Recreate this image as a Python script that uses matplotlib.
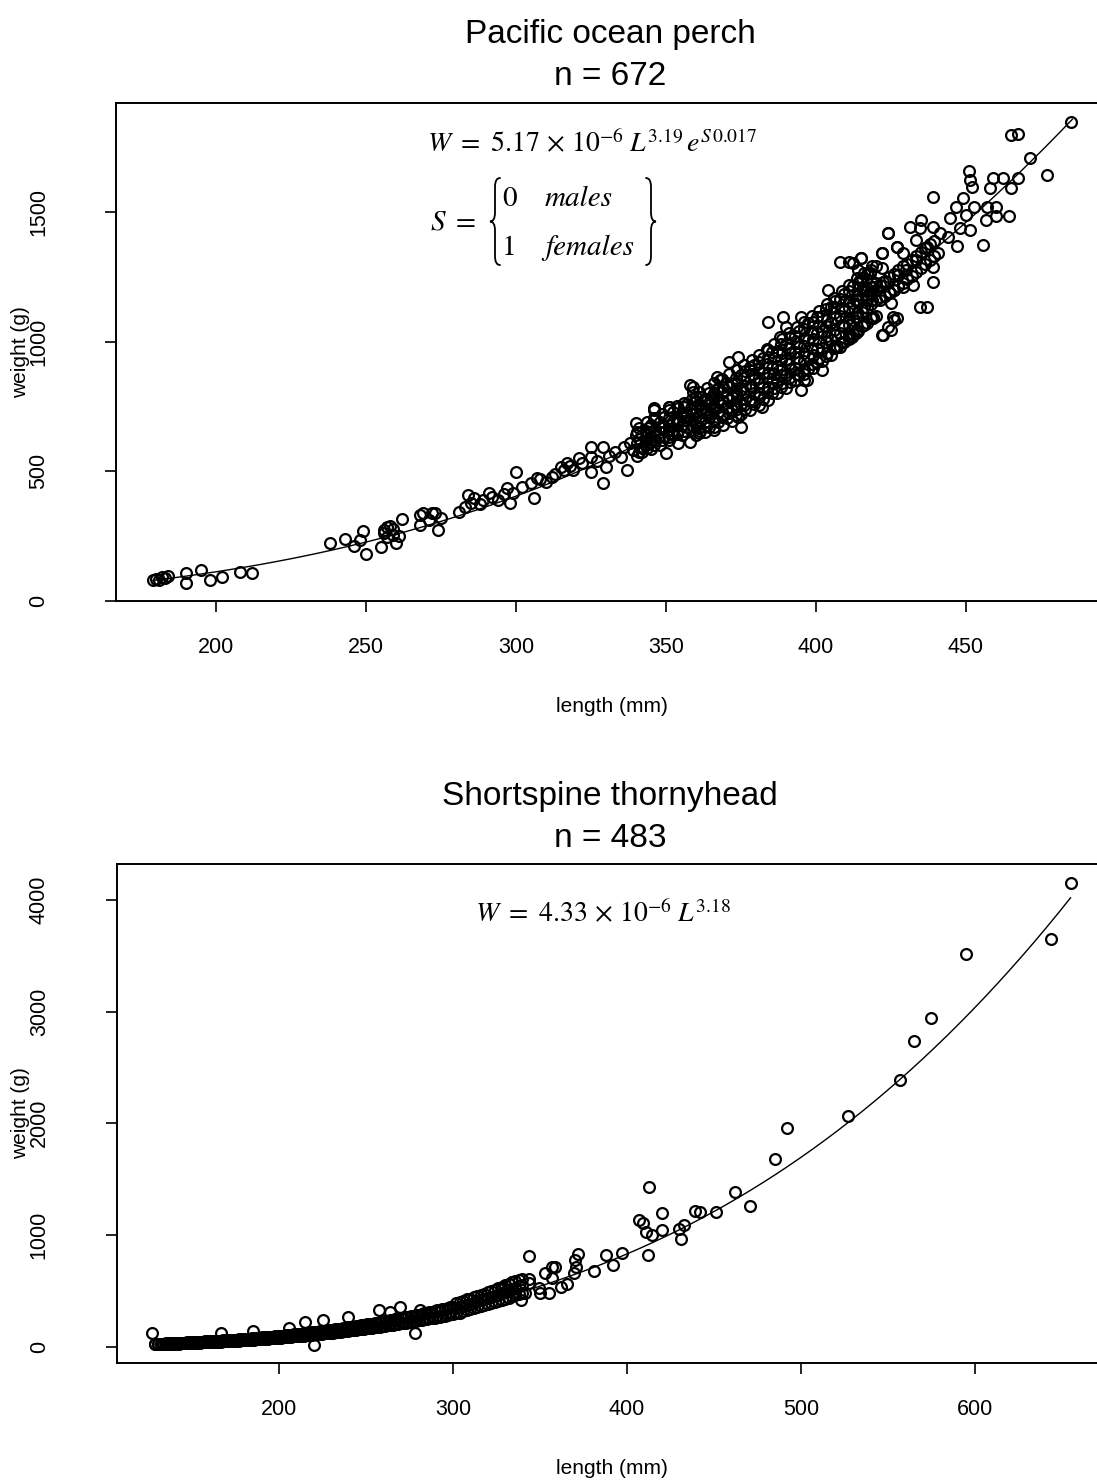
import matplotlib
matplotlib.use("Agg")
import numpy as np
import matplotlib.pyplot as plt
from matplotlib.path import Path
from matplotlib.patches import PathPatch
from matplotlib.transforms import Affine2D

plt.rcParams['font.family'] = ['Liberation Sans', 'DejaVu Sans']
plt.rcParams['mathtext.fontset'] = 'stix'

# ---------------- data: Pacific ocean perch (length mm, weight g) ----------------
pop_small = [(179, 80), (180, 82), (181, 78), (182, 90), (183, 86), (184, 95), (190, 106),
             (190, 70), (195, 118), (198, 80), (202, 90), (208, 112), (212, 108)]
pop_mid = [(238, 221), (243, 239), (246, 211), (249, 270), (248, 234), (250, 180), (255, 206),
           (256, 273), (257, 283), (259, 254), (260, 224), (261, 250), (262, 317), (256, 260),
           (268, 331), (268, 292), (271, 311), (273, 340), (274, 273), (258, 290), (259, 275),
           (257, 245)]
pop_lower = [(269, 337), (272, 337), (275, 320), (281, 344), (284, 408), (285, 376), (283, 360),
             (289, 389), (291, 414), (294, 389), (297, 434), (299, 414), (298, 376), (300, 498),
             (305, 453), (306, 395), (307, 472), (312, 479), (315, 517), (317, 530), (319, 504),
             (321, 549), (325, 594), (325, 556), (325, 498), (329, 594), (330, 517), (329, 455),
             (335, 556), (336, 594), (337, 504), (339, 582), (286, 395), (288, 372), (292, 400),
             (296, 410), (302, 440), (308, 468), (310, 460), (313, 490), (316, 505), (318, 520),
             (322, 530), (327, 540), (331, 560), (333, 575), (338, 610), (340, 640)]
pop_upper = [(340, 687), (344, 665), (345, 614), (346, 736), (348, 672), (350, 569), (351, 749),
             (352, 646), (354, 607), (356, 749), (357, 697), (358, 614), (359, 826), (360, 787),
             (361, 646), (363, 736), (365, 775), (366, 672), (367, 865), (367, 813),
             (346, 742), (351, 749), (358, 832), (359, 807), (361, 672), (365, 723), (368, 852),
             (371, 922), (374, 942), (375, 672), (374, 710), (378, 903), (382, 749), (384, 968),
             (384, 1077), (389, 1096), (390, 1058), (388, 1019), (395, 1096), (396, 852),
             (395, 813), (397, 852), (399, 1032), (402, 890), (404, 1199), (406, 1135),
             (407, 981), (411, 1032), (412, 1019), (408, 1308), (411, 1308), (415, 1321),
             (414, 1276), (418, 1263), (419, 1096), (422, 1341), (424, 1418), (422, 1025),
             (425, 1045), (426, 1083), (427, 1366), (420, 1199), (426, 1199)]
pop_large = [(485.2, 1849), (465.2, 1797), (467.4, 1800), (471.3, 1707), (477.2, 1643),
             (451.1, 1660), (451.5, 1624), (452.2, 1595), (459.1, 1630), (462.4, 1630),
             (467.4, 1630), (465.2, 1592), (458, 1592), (439.1, 1559), (449.1, 1553),
             (452.6, 1521), (446.6, 1521), (456.9, 1521), (460.2, 1521), (464.4, 1485),
             (459.9, 1485), (456.6, 1469), (450.2, 1489), (444.6, 1476), (435.2, 1469),
             (431.3, 1443), (434.6, 1437), (424.1, 1418), (439.1, 1443), (441.3, 1418),
             (444.1, 1405), (448, 1437), (451.3, 1431), (455.7, 1373), (446.9, 1369),
             (433.5, 1392), (426.9, 1366), (421.9, 1341), (415.2, 1321), (412.4, 1302),
             (429.1, 1341), (436.9, 1366), (440.7, 1341), (433.5, 1315), (439.1, 1289),
             (439.1, 1231), (430.2, 1276), (427.4, 1257), (432.4, 1218), (429.1, 1212),
             (421.9, 1283), (418, 1263), (414.6, 1238), (419.1, 1212), (424.7, 1186),
             (425.2, 1148), (426.9, 1090), (424.1, 1058), (422.4, 1025), (425.7, 1096),
             (419.1, 1090), (434.6, 1132), (436.9, 1132), (413.5, 1161), (413.5, 1096),
             (416.9, 1161), (413.5, 1032), (421.3, 1173), (422.4, 1231), (418, 1186),
             (415.7, 1212)]
# dense core of the cloud: (length, weights...)
pop_core = [
    (340.5, 560, 610, 650), (342, 590, 640, 575), (343.5, 600, 655, 620), (345, 585, 630, 680),
    (346.5, 615, 660, 700), (348, 600, 650, 690), (349.5, 630, 670, 710), (351, 620, 660, 705),
    (352.5, 640, 690, 730), (354, 655, 700, 745), (355.5, 640, 680, 725), (357, 670, 715, 760),
    (358.5, 660, 700, 745), (360, 680, 725, 770, 640), (361.5, 695, 740, 785, 655),
    (363, 690, 735, 780, 650), (364.5, 710, 755, 800, 670), (366, 700, 750, 800, 660),
    (367.5, 730, 775, 820, 690), (369, 720, 770, 825, 680), (370.5, 745, 790, 840, 705),
    (372, 735, 785, 835, 695), (373.5, 760, 810, 860, 715), (375, 760, 815, 870, 720),
    (376.5, 780, 830, 885, 740), (378, 775, 830, 890, 735), (379.5, 800, 855, 910, 760),
    (381, 800, 860, 920, 755), (382.5, 825, 880, 935, 780), (384, 825, 880, 940, 775),
    (385.5, 845, 900, 960, 800), (387, 850, 905, 965, 800), (388.5, 870, 930, 990, 825),
    (390, 870, 930, 990, 820), (391.5, 895, 955, 1015, 845), (393, 900, 960, 1020, 850),
    (394.5, 920, 980, 1040, 870), (396, 925, 985, 1050, 875), (397.5, 945, 1005, 1070, 895),
    (399, 950, 1010, 1075, 900), (400.5, 970, 1035, 1095, 920), (402, 975, 1040, 1100, 925),
    (403.5, 1000, 1060, 1125, 945), (405, 1005, 1070, 1135, 950), (406.5, 1025, 1090, 1155, 975),
    (408, 1035, 1100, 1165, 980), (409.5, 1055, 1120, 1185, 1000), (411, 1065, 1130, 1195, 1010),
    (412.5, 1085, 1150, 1215, 1030), (414, 1095, 1160, 1225, 1040), (415.5, 1115, 1180, 1245, 1060),
    (417, 1130, 1195, 1260, 1070), (418.5, 1145, 1210, 1275, 1090), (420, 1160, 1225, 1290, 1100),
    (421.5, 1160, 1220), (423, 1175, 1235), (424.5, 1190, 1250), (426, 1200, 1260),
    (427.5, 1215, 1275), (429, 1225, 1290), (430.5, 1240, 1300), (432, 1255, 1315),
    (433.5, 1270, 1330), (435, 1285, 1345), (436.5, 1300, 1360), (438, 1315, 1375),
    (439.5, 1330, 1390)]
pop_core_fill = [
    (341.2, 575, 625, 665), (343.8, 590, 640, 690), (346.2, 600, 650, 705), (348.8, 620, 670, 720),
    (351.2, 630, 680, 735), (353.8, 645, 695, 750), (356.2, 655, 710, 765), (358.8, 675, 720, 780),
    (361.2, 665, 710, 760, 805), (363.8, 680, 725, 775, 820), (366.2, 695, 740, 790, 840),
    (368.8, 710, 755, 805, 855), (371.2, 725, 775, 825, 875), (373.8, 740, 790, 840, 890),
    (376.2, 755, 805, 860, 910), (378.8, 770, 825, 875, 930), (381.2, 785, 840, 895, 950),
    (383.8, 805, 860, 915, 970), (386.2, 820, 875, 935, 990), (388.8, 840, 895, 955, 1010),
    (391.2, 860, 915, 975, 1035), (393.8, 875, 935, 995, 1055), (396.2, 895, 955, 1015, 1075),
    (398.8, 915, 975, 1040, 1100), (401.2, 935, 1000, 1060, 1120), (403.8, 955, 1020, 1085, 1145),
    (406.2, 980, 1045, 1110, 1170), (408.8, 1000, 1065, 1130, 1195), (411.2, 1020, 1090, 1155, 1220),
    (413.8, 1045, 1110, 1180, 1245), (416.2, 1065, 1135, 1200, 1265), (418.8, 1090, 1160, 1225, 1290)]

# ---------------- data: Shortspine thornyhead ----------------
sst_points = [(655, 4148), (644, 3650), (595, 3513), (575, 2940), (565, 2737), (557, 2388),
              (527, 2065), (492, 1961), (485, 1680), (462, 1382), (471, 1263), (451.5, 1209),
              (442, 1209), (439, 1218), (413, 1427), (420, 1194), (407, 1134), (409, 1110),
              (411, 1030), (414.5, 1000), (420, 1045), (430, 1051), (433, 1090), (431, 961),
              (412, 821), (397, 842), (388, 821), (392, 731), (381, 681), (372, 830), (370, 776),
              (370.5, 717), (369.5, 663), (358.6, 711), (343.6, 815), (349.4, 523), (357, 612),
              (362, 537), (365.7, 561), (355, 478), (341.7, 478), (338.9, 418), (343.6, 567),
              (127, 126), (167, 120), (185, 141), (206, 164), (215, 224), (225.5, 239), (220, 15),
              (239.5, 263), (257.5, 329), (264, 314), (269.5, 358), (278, 120), (281, 329),
              (334, 582), (344, 603), (328, 514), (336, 478), (350, 478), (356.7, 716), (353, 657)]
sst_band = [
    (129, 20, 26), (130.5, 22, 27), (132, 21, 28), (133.5, 23, 28), (135, 24, 30), (136.5, 25, 30),
    (138, 25, 31), (139.5, 26, 32), (141, 27, 33), (142.5, 28, 34), (144, 29, 36), (145.5, 30, 37),
    (147, 31, 38), (148.5, 32, 39), (150, 33, 40), (151.5, 34, 41), (153, 35, 43), (154.5, 36, 44),
    (156, 38, 45), (157.5, 38, 47), (159, 40, 48), (160.5, 41, 49), (162, 42, 51), (163.5, 43, 52),
    (165, 45, 53), (166.5, 46, 55), (168, 47, 56), (169.5, 48, 58), (171, 50, 59), (172.5, 51, 61),
    (174, 52, 63), (175.5, 54, 64), (177, 55, 66), (178.5, 57, 68), (180, 58, 70), (181.5, 60, 71),
    (183, 61, 73), (184.5, 63, 75), (186, 64, 77), (187.5, 66, 79), (189, 68, 81), (190.5, 69, 83),
    (192, 71, 85), (193.5, 73, 87), (195, 75, 89), (196.5, 76, 91), (198, 78, 93), (199.5, 80, 96),
    (201, 82, 98), (202.5, 84, 100), (204, 86, 103), (205.5, 88, 105), (207, 90, 108),
    (208.5, 92, 110), (210, 94, 113), (211.5, 96, 115), (213, 98, 118), (214.5, 100, 121),
    (216, 103, 124), (217.5, 105, 126), (219, 107, 129), (220.5, 110, 132), (222, 112, 135),
    (223.5, 114, 138), (225, 117, 141), (226.5, 119, 144), (228, 122, 147), (229.5, 124, 150),
    (231, 127, 153), (232.5, 130, 156), (234, 132, 160), (235.5, 135, 163), (237, 138, 166),
    (238.5, 140, 170), (240, 143, 173), (241.5, 146, 177), (243, 149, 180), (244.5, 152, 184),
    (246, 155, 188), (247.5, 158, 191), (249, 161, 195), (250.5, 164, 199), (252, 167, 203),
    (253.5, 170, 207), (255, 173, 211), (256.5, 177, 215), (258, 180, 219), (259.5, 183, 223),
    (261, 187, 227), (262.5, 190, 232), (264, 194, 236), (265.5, 197, 240), (267, 201, 245),
    (268.5, 205, 249), (270, 208, 254), (271.5, 212, 259), (273, 216, 263), (274.5, 220, 268),
    (276, 224, 273), (277.5, 228, 278), (279, 232, 283), (280.5, 236, 288), (282, 240, 293),
    (283.5, 244, 298), (285, 248, 304), (286.5, 253, 309), (288, 257, 314), (289.5, 261, 320),
    (291, 266, 325), (292.5, 270, 331), (294, 275, 337), (295.5, 279, 342), (297, 284, 348),
    (298.5, 289, 354), (300, 294, 360), (302, 300, 345, 390), (304, 305, 355, 400),
    (306, 320, 365, 410), (308, 330, 375, 425), (310, 335, 385, 430), (312, 345, 395, 445),
    (314, 355, 405, 455), (316, 365, 415, 465), (318, 375, 425, 475), (320, 380, 435, 490),
    (322, 390, 445, 500), (324, 400, 455, 510), (326, 410, 465, 525), (328, 420, 480, 535),
    (330, 430, 490, 550), (332, 440, 500, 560), (334, 450, 515, 575), (336, 460, 525, 590),
    (338, 470, 540, 600), (340, 485, 550, 610)]

# fitted curves as drawn (W = a * L^b)
pop_curve = dict(a=5.57e-6, b=3.173, lmin=179, lmax=485.5)
sst_curve = dict(a=3.96e-6, b=3.198, lmin=128, lmax=655)

pop_title = ["Pacific ocean perch", "n = 672"]
sst_title = ["Shortspine thornyhead", "n = 483"]
pop_xticks = [200, 250, 300, 350, 400, 450]
pop_yticks = [0, 500, 1000, 1500]
sst_xticks = [200, 300, 400, 500, 600]
sst_yticks = [0, 1000, 2000, 3000, 4000]


def pairs(rows):
    xs, ys = [], []
    for r in rows:
        xs.append(r[0]); ys.append(r[1])
    return xs, ys


def rows_to_xy(rows):
    xs, ys = [], []
    for r in rows:
        for w in r[1:]:
            xs.append(r[0]); ys.append(w)
    return xs, ys


W_PX, H_PX = 1097, 1482
fig = plt.figure(figsize=(W_PX / 100, H_PX / 100), dpi=100)
px2fig = Affine2D().scale(1.0 / W_PX, -1.0 / H_PX).translate(0, 1) + fig.transFigure


def px_axes(left, top, right, bottom):
    return fig.add_axes([left / W_PX, 1 - bottom / H_PX, (right - left) / W_PX, (bottom - top) / H_PX])


def ptext(x, y, s, **kw):
    return fig.text(x / W_PX, 1 - y / H_PX, s, **kw)


def brace(x_tip, x_end, y_top, y_bot, lw=1.3):
    xm = (x_tip + x_end) / 2.0
    ym = (y_top + y_bot) / 2.0
    r = abs(x_end - x_tip) * 0.9
    verts = [(x_end, y_top), (xm, y_top), (xm, y_top + r), (xm, ym - r), (xm, ym), (x_tip, ym),
             (xm, ym), (xm, ym + r), (xm, y_bot - r), (xm, y_bot), (x_end, y_bot)]
    codes = [Path.MOVETO, Path.CURVE3, Path.CURVE3, Path.LINETO, Path.CURVE3, Path.CURVE3,
             Path.CURVE3, Path.CURVE3, Path.LINETO, Path.CURVE3, Path.CURVE3]
    patch = PathPatch(Path(verts, codes), fill=False, lw=lw, edgecolor='black',
                      transform=px2fig, capstyle='round')
    fig.add_artist(patch)


marker_kw = dict(linestyle='none', marker='o', mfc='none', mec='black', ms=7.8, mew=1.6)
tick_fs = 15.5
label_fs = 15


def style_axes(ax, xticks, yticks):
    for sp in ax.spines.values():
        sp.set_linewidth(1.4)
    ax.set_xticks(xticks)
    ax.set_yticks(yticks)
    ax.set_xticklabels([str(t) for t in xticks], fontsize=tick_fs)
    ax.set_yticklabels([str(t) for t in yticks], fontsize=tick_fs, rotation=90, va='center')
    ax.tick_params(axis='both', direction='out', length=8, width=1.2)
    ax.tick_params(axis='x', pad=18)
    ax.tick_params(axis='y', pad=40)


# ---------------- top panel ----------------
ax1 = px_axes(116, 103, 1108, 600.7)
for grp in (pop_small, pop_mid, pop_lower, pop_upper, pop_large):
    x, y = pairs(grp)
    ax1.plot(x, y, **marker_kw)
for grp in (pop_core, pop_core_fill):
    x, y = rows_to_xy(grp)
    ax1.plot(x, y, **marker_kw)
lc = np.linspace(pop_curve['lmin'], pop_curve['lmax'], 300)
ax1.plot(lc, pop_curve['a'] * lc ** pop_curve['b'], color='black', lw=1.0)
ax1.set_xlim(166.7, 166.7 + 992 / 3.0)
ax1.set_ylim(0, 1921)
style_axes(ax1, pop_xticks, pop_yticks)
ax1.set_xlabel("length (mm)", fontsize=label_fs, va='center')
ax1.xaxis.set_label_coords(0.5, (600.7 - 706) / 497.7)
ax1.set_ylabel("weight (g)", fontsize=label_fs, va='center')
ax1.yaxis.set_label_coords((21 - 116) / 992.0, 0.5)

ptext(610, 43, pop_title[0], fontsize=24, ha='center', va='baseline')
ptext(610, 85, pop_title[1], fontsize=24, ha='center', va='baseline')

ptext(427, 152, r'$W\ =\ 5.17\,\times\,10^{-6}\;L^{3.19}\,e^{S\,0.017}$', fontsize=20,
      ha='left', va='baseline')
ptext(430, 230, r'$S\ =$', fontsize=21, ha='left', va='baseline')
brace(490, 500, 178, 265)
brace(656, 646, 178, 265)
ptext(502, 206, '0', fontsize=21, family='STIXGeneral', ha='left', va='baseline')
ptext(545, 206, 'males', fontsize=21, family='STIXGeneral', style='italic', ha='left', va='baseline')
ptext(502, 255, '1', fontsize=21, family='STIXGeneral', ha='left', va='baseline')
ptext(545, 255, 'females', fontsize=21, family='STIXGeneral', style='italic', ha='left', va='baseline')

# ---------------- bottom panel ----------------
ax2 = px_axes(116.5, 864, 1108, 1362.7)
x, y = rows_to_xy(sst_band)
ax2.plot(x, y, **marker_kw)
x, y = pairs(sst_points)
ax2.plot(x, y, **marker_kw)
lc = np.linspace(sst_curve['lmin'], sst_curve['lmax'], 300)
ax2.plot(lc, sst_curve['a'] * lc ** sst_curve['b'], color='black', lw=1.0)
ax2.set_xlim(106.7, 106.7 + 991.5 / 1.74)
ax2.set_ylim(-143, 4321)
style_axes(ax2, sst_xticks, sst_yticks)
ax2.set_xlabel("length (mm)", fontsize=label_fs, va='center')
ax2.xaxis.set_label_coords(0.5, (1362.7 - 1468) / 498.7)
ax2.set_ylabel("weight (g)", fontsize=label_fs, va='center')
ax2.yaxis.set_label_coords((21 - 116.5) / 991.5, 0.5)

ptext(610, 805, sst_title[0], fontsize=24, ha='center', va='baseline')
ptext(610, 847, sst_title[1], fontsize=24, ha='center', va='baseline')
ptext(475, 922, r'$W\ =\ 4.33\,\times\,10^{-6}\;L^{3.18}$', fontsize=20, ha='left', va='baseline')

fig.savefig("out.png", dpi=100)
